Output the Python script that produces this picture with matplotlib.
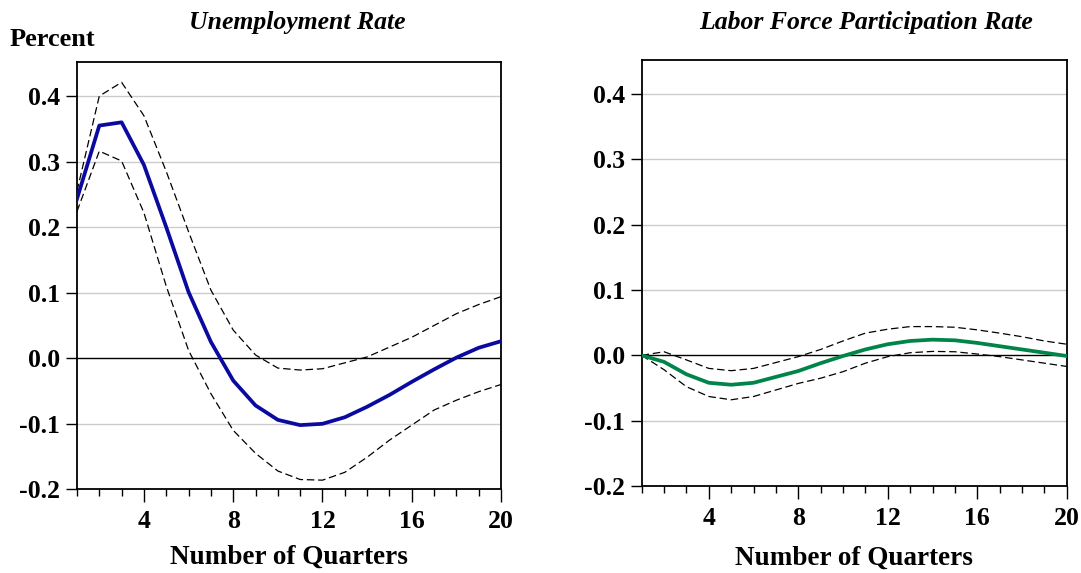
import matplotlib
matplotlib.use("Agg")
import matplotlib.pyplot as plt
from matplotlib.ticker import MultipleLocator, FixedLocator

quarters = list(range(1, 21))

unemp_mean = [0.243, 0.355, 0.360, 0.295, 0.200, 0.101, 0.025, -0.034, -0.072, -0.094,
              -0.102, -0.100, -0.090, -0.074, -0.056, -0.036, -0.017, 0.001, 0.016, 0.026]
unemp_upper = [0.255, 0.400, 0.421, 0.370, 0.285, 0.193, 0.104, 0.043, 0.005, -0.015,
               -0.018, -0.016, -0.007, 0.002, 0.017, 0.032, 0.050, 0.068, 0.082, 0.094]
unemp_lower = [0.224, 0.316, 0.301, 0.222, 0.110, 0.012, -0.054, -0.110, -0.145, -0.172,
               -0.185, -0.186, -0.174, -0.151, -0.125, -0.102, -0.079, -0.064, -0.051, -0.040]

lfpr_mean = [0.000, -0.010, -0.029, -0.042, -0.045, -0.042, -0.033, -0.024, -0.012, -0.001,
             0.009, 0.017, 0.022, 0.024, 0.023, 0.019, 0.014, 0.009, 0.004, -0.001]
lfpr_upper = [0.000, 0.0055, -0.007, -0.020, -0.0235, -0.020, -0.011, -0.002, 0.009, 0.022,
              0.034, 0.040, 0.044, 0.044, 0.043, 0.039, 0.034, 0.0285, 0.022, 0.017]
lfpr_lower = [0.000, -0.022, -0.048, -0.063, -0.068, -0.063, -0.053, -0.043, -0.035, -0.025,
              -0.012, -0.002, 0.004, 0.006, 0.0055, 0.002, -0.002, -0.007, -0.012, -0.017]

yticks = [-0.2, -0.1, 0.0, 0.1, 0.2, 0.3, 0.4]
ytick_labels = ["-0.2", "-0.1", "0.0", "0.1", "0.2", "0.3", "0.4"]
xticks = [4, 8, 12, 16, 20]
xtick_labels = ["4", "8", "12", "16", "20"]

plt.rcParams['font.family'] = ['Liberation Serif', 'DejaVu Serif']

W, H = 1081, 573
fig = plt.figure(figsize=(W / 100, H / 100), dpi=100)
ax1 = fig.add_axes([0.0712, 0.146, 0.3923, 0.7458])
ax2 = fig.add_axes([0.5936, 0.1518, 0.3932, 0.7435])


def style(ax, mean, upper, lower, color):
    for y in [0.1, 0.2, 0.3, 0.4, -0.1]:
        ax.axhline(y, color='#cccccc', lw=1.0, zorder=0)
    ax.axhline(0.0, color='black', lw=1.0, zorder=1)
    ax.plot(quarters, upper, color='black', lw=0.9, ls=(0, (6, 3)), zorder=2)
    ax.plot(quarters, lower, color='black', lw=0.9, ls=(0, (6, 3)), zorder=2)
    ax.plot(quarters, mean, color=color, lw=2.7, zorder=3)
    ax.set_xlim(1, 20)
    ax.set_ylim(-0.2, 0.452)
    ax.yaxis.set_major_locator(FixedLocator(yticks))
    ax.set_yticklabels(ytick_labels)
    ax.xaxis.set_major_locator(FixedLocator(xticks))
    ax.set_xticklabels(xtick_labels)
    ax.xaxis.set_minor_locator(MultipleLocator(1))
    ax.tick_params(axis='both', which='major', direction='out', width=1.0,
                   labelsize=18.5, top=False, right=False)
    ax.tick_params(axis='x', which='major', length=9, pad=6)
    ax.tick_params(axis='y', which='major', length=8, pad=4)
    ax.tick_params(axis='x', which='minor', direction='out', length=5, width=1.0, top=False)
    for lab in ax.get_xticklabels() + ax.get_yticklabels():
        lab.set_fontweight('bold')
    for sp in ax.spines.values():
        sp.set_linewidth(1.3)


style(ax1, unemp_mean, unemp_upper, unemp_lower, '#0a0aa0')
style(ax2, lfpr_mean, lfpr_upper, lfpr_lower, '#00844a')

def ftext(x, y, s, **kw):
    fig.text(x / W, 1 - y / H, s, **kw)

ftext(297, 22, "Unemployment Rate", fontsize=18.5, fontweight='bold', style='italic',
      ha='center', va='center')
ftext(866, 23, "Labor Force Participation Rate", fontsize=18.5, fontweight='bold',
      style='italic', ha='center', va='center')
ftext(10, 40, "Percent", fontsize=19, fontweight='bold', ha='left', va='center')
ftext(289, 557, "Number of Quarters", fontsize=19.5, fontweight='bold', ha='center', va='center')
ftext(854, 558, "Number of Quarters", fontsize=19.5, fontweight='bold', ha='center', va='center')

fig.savefig("out.png", dpi=100)
